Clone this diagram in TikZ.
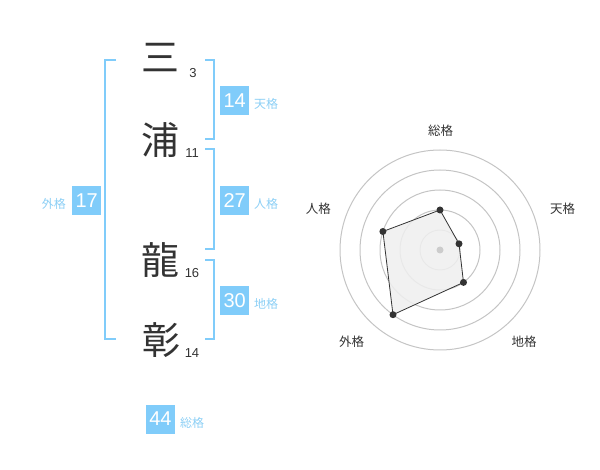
\documentclass[tikz,border=0pt]{standalone}
\usepackage{fontspec}
\usetikzlibrary{calc}
\setmainfont{Liberation Sans}
\newfontfamily\cjk{Noto Sans CJK JP}
\definecolor{lblue}{HTML}{80CCFA}
\definecolor{ltext}{HTML}{8CCFF5}
\definecolor{dark}{HTML}{333333}
\definecolor{ring}{HTML}{C4C4C4}
\definecolor{cdot}{HTML}{CCCCCC}
\definecolor{polyfill}{HTML}{EFEFEF}
\tikzset{
  bracket/.style={draw=lblue, line width=2pt},
  numbox/.style={fill=lblue, text=white, minimum width=29pt, minimum height=29pt, inner sep=0pt, font=\fontsize{20}{20}\selectfont},
  lab/.style={text=ltext, inner sep=0pt, font=\cjk\fontsize{12}{12}\selectfont},
  kanji/.style={text=dark, inner sep=0pt, font=\cjk\fontsize{38}{38}\selectfont},
  strokes/.style={text=dark, inner sep=0pt, font=\fontsize{13}{13}\selectfont},
  rlab/.style={text=dark, inner sep=0pt, font=\cjk\fontsize{12.5}{12.5}\selectfont},
  ringc/.style={draw=ring, line width=1pt},
  dot/.style={circle, fill=dark, inner sep=0pt, minimum size=7pt},
}
\begin{document}
\begin{tikzpicture}[x=1pt,y=-1pt]
\useasboundingbox (0,0) rectangle (600,470);
% characters
\node[kanji] (c1) at (160,58) {三};
\node[kanji] (c2) at (160,140) {浦};
\node[kanji] (c3) at (160,260) {龍};
\node[kanji] (c4) at (161,340) {彰};
\node[strokes] (s1) at (193,73) {3};
\node[strokes] (s2) at (192,153) {11};
\node[strokes] (s3) at (192,273) {16};
\node[strokes] (s4) at (192,353) {14};
% brackets
\draw[bracket] (116,60) -- (105,60) -- (105,339) -- (116,339);
\draw[bracket] (205,60) -- (214,60) -- (214,139) -- (205,139);
\draw[bracket] (205,149) -- (214,149) -- (214,249) -- (205,249);
\draw[bracket] (205,260) -- (214,260) -- (214,339) -- (205,339);
% boxes
\node[numbox] (b14) at (234.7,100.5) {14};
\node[lab,anchor=west] (l14) at (254,104) {天格};
\node[numbox] (b27) at (234.7,200.5) {27};
\node[lab,anchor=west] (l27) at (254,204) {人格};
\node[numbox] (b17) at (86.7,200.5) {17};
\node[lab,anchor=east] (l17) at (66,203.5) {外格};
\node[numbox] (b30) at (234.7,300.5) {30};
\node[lab,anchor=west] (l30) at (254,304) {地格};
\node[numbox] (b44) at (160.5,419) {44};
\node[lab,anchor=west] (l44) at (180,423) {総格};
% radar
\coordinate (O) at (440,250);
\foreach \r in {20,40,60,80,100} \draw[ringc] (O) circle[radius=\r];
\coordinate (pA) at ($(O)+(0,-40)$);
\coordinate (pB) at ($(O)+(19.0,-6.2)$);
\coordinate (pC) at ($(O)+(23.5,32.4)$);
\coordinate (pD) at ($(O)+(-47.0,64.7)$);
\coordinate (pE) at ($(O)+(-57.1,-18.5)$);
\filldraw[fill=polyfill, fill opacity=0.85, draw=dark, draw opacity=1, line width=0.8pt] (pA) -- (pB) -- (pC) -- (pD) -- (pE) -- cycle;
\node[circle, fill=cdot, inner sep=0pt, minimum size=7pt] (ctr) at (O) {};
\foreach \p in {pA,pB,pC,pD,pE} \node[dot] at (\p) {};
\node[rlab] (r1) at (440.7,130.7) {総格};
\node[rlab] (r2) at (562.7,209) {天格};
\node[rlab] (r3) at (524,341.7) {地格};
\node[rlab] (r4) at (351.7,341.7) {外格};
\node[rlab] (r5) at (318.3,209) {人格};
\end{tikzpicture}
\end{document}
